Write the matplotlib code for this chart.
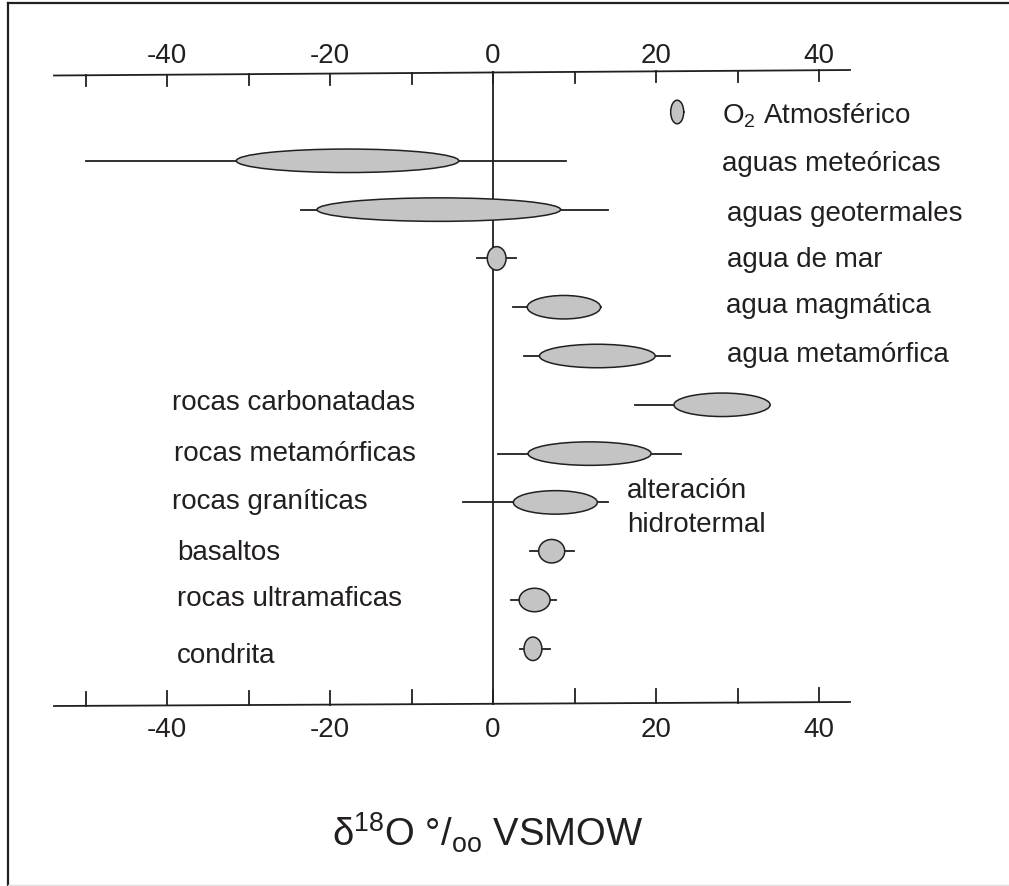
import numpy as np
import matplotlib.pyplot as plt
from matplotlib.patches import Ellipse

plt.rcParams['font.family'] = ['Liberation Sans', 'DejaVu Sans']
plt.rcParams['mathtext.fontset'] = 'custom'
plt.rcParams['mathtext.rm'] = 'Liberation Sans'
plt.rcParams['mathtext.it'] = 'Liberation Sans'

# delta 18O ranges (permil VSMOW), one row per reservoir, top to bottom
labels = ['O$_2$ Atmosférico', 'aguas meteóricas', 'aguas geotermales', 'agua de mar',
          'agua magmática', 'agua metamórfica', 'rocas carbonatadas', 'rocas metamórficas',
          'rocas graníticas', 'basaltos', 'rocas ultramaficas', 'condrita']
core_lo = [21.8, -31.5, -21.6, -0.7, 4.2, 5.7, 22.2, 4.3, 2.5, 5.6, 3.2, 3.8]
core_hi = [23.4, -4.2, 8.3, 1.6, 13.2, 19.9, 34.0, 19.4, 12.8, 8.8, 7.0, 6.0]
range_lo = [21.8, -49.9, -23.5, -2.0, 2.5, 3.8, 17.4, 0.6, -3.7, 4.6, 2.2, 3.3]
range_hi = [23.4, 9.0, 14.1, 2.8, 13.2, 21.7, 34.0, 23.1, 14.1, 9.9, 7.7, 7.0]
ticks = [-50, -40, -30, -20, -10, 0, 10, 20, 30, 40]
tick_labels = {-40: '-40', -20: '-20', 0: '0', 20: '20', 40: '40'}

# layout: pixel -> data helpers (x: 8.15 px per permil, zero at 493 px; rows 48.8 px apart)
X0, XS, Y0, YS = 493, 8.15, 112, 48.8
W, H = 1009, 886
def dx(px):
    return (px - X0) / XS
def dy(px):
    return (px - Y0) / YS

fig = plt.figure(figsize=(W / 100, H / 100), dpi=100)
ax = fig.add_axes([0, 0, 1, 1])
ax.set_xlim(dx(0), dx(W))
ax.set_ylim(dy(H), dy(0))
ax.axis('off')

ink = '#231f20'
fs = 20

# frame
fig.add_artist(plt.Line2D([8 / W, 8 / W], [0, 1 - 3 / H], color=ink, lw=1.6))
fig.add_artist(plt.Line2D([8 / W, 1], [1 - 3 / H, 1 - 3 / H], color=ink, lw=1.6))
fig.add_artist(plt.Line2D([8 / W, 1], [1.5 / H, 1.5 / H], color='#dddddd', lw=1))

# axes lines (slightly tilted, as in the drawing)
xa = [dx(54), dx(850)]
top_y = [dy(75.5), dy(70)]
bot_y = [dy(706), dy(702)]
ax.plot(xa, top_y, color=ink, lw=1.3)
ax.plot(xa, bot_y, color=ink, lw=1.3)
for t in ticks:
    yt = np.interp(t, xa, top_y)
    yb = np.interp(t, xa, bot_y)
    ax.plot([t, t], [yt, yt + 11 / YS], color=ink, lw=1.3)
    ax.plot([t, t], [yb, yb - 14 / YS], color=ink, lw=1.3)
    if t in tick_labels:
        ax.text(t, dy(63), tick_labels[t], ha='center', va='baseline', fontsize=fs, color=ink)
        ax.text(t, dy(737), tick_labels[t], ha='center', va='baseline', fontsize=fs, color=ink)
ax.plot([0, 0], [np.interp(0, xa, top_y), np.interp(0, xa, bot_y)], color=ink, lw=1.3)

# ranges and ellipses
for i in range(len(labels)):
    ax.plot([range_lo[i], range_hi[i]], [i, i], color=ink, lw=1.3, zorder=2)
    e = Ellipse(((core_lo[i] + core_hi[i]) / 2, i), core_hi[i] - core_lo[i], 23.5 / YS,
                facecolor='#c4c4c4', edgecolor=ink, lw=1.1, zorder=3)
    ax.add_patch(e)

# category labels
right_px = [722, 722, 727, 727, 726, 727]
left_px = [172, 174, 172, 177, 177, 177]
base_px = [123, 171, 221, 267, 313, 362, 410, 461, 509, 560, 606, 663]
for i, lab in enumerate(labels):
    x = dx(right_px[i]) if i < 6 else dx(left_px[i - 6])
    ax.text(x, dy(base_px[i]), lab, ha='left', va='baseline', fontsize=fs, color=ink)
ax.text(dx(627), dy(498), 'alteración', ha='left', va='baseline', fontsize=fs, color=ink)
ax.text(dx(627), dy(532), 'hidrotermal', ha='left', va='baseline', fontsize=fs, color=ink)

# axis title
ax.text(dx(332), dy(847), r'δ$^{\mathrm{18}}$O °/$_{\mathrm{oo}}$ VSMOW', ha='left', va='baseline',
        fontsize=27.5, color=ink)

plt.savefig('out.png', dpi=100)
